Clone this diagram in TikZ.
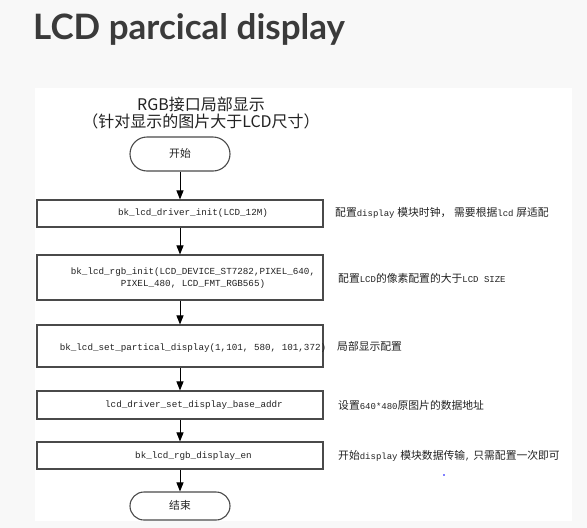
\documentclass[tikz,border=0pt]{standalone}
\usepackage{fontspec}
\setmainfont{Liberation Sans}
\setmonofont{Liberation Mono}
\newfontfamily\cjk{Noto Sans CJK SC}
\newfontfamily\titlefont{Lato}
\usetikzlibrary{arrows.meta}
\definecolor{bggray}{HTML}{F8F8F8}
\definecolor{titlegray}{HTML}{3A3A3A}
\definecolor{boxgray}{HTML}{4A4A4A}
\definecolor{txt}{HTML}{222222}
\newcommand\cd[1]{{\ttfamily\fontsize{9.25}{12.7}\selectfont #1}}
\newcommand\zh[1]{{\cjk\fontsize{10.8}{13}\selectfont #1}}
\newcommand\lt[1]{{\ttfamily\fontsize{9}{13}\selectfont #1}}
\tikzset{
  stepbox/.style={draw=boxgray, line width=1.1pt, minimum width=286pt, inner sep=0pt},
  term/.style={draw=boxgray, line width=1.1pt, minimum width=100pt, inner sep=0pt},
  codetext/.style={text=txt, inner sep=0pt, align=center},
  note/.style={text=txt, inner sep=0pt, anchor=west},
  arr/.style={draw=black, line width=1pt, -{Triangle[length=9pt,width=7pt]}},
}
\begin{document}
\begin{tikzpicture}[x=1pt,y=-1pt]
\useasboundingbox (0,0) rectangle (587,528);
\fill[bggray] (0,0) rectangle (587,528);
\fill[white] (35,88) rectangle (572,521);

\node[anchor=base west, inner sep=0pt, text=titlegray,
      font=\titlefont\bfseries\fontsize{35}{40}\selectfont] (title) at (33,39) {LCD parcical display};

\node[text=txt, inner sep=0pt, align=center, font=\cjk\fontsize{16}{17}\selectfont] (head) at (201,113)
  {RGB接口局部显示\\（针对显示的图片大于LCD尺寸）};

\node[term, minimum height=34pt, rounded corners=17pt] (start) at (180,154) {};
\node[text=txt, inner sep=0pt] (starttxt) at (180,153) {\zh{开始}};

\node[stepbox, minimum height=27pt] (b1) at (180,213.5) {};
\node[codetext] (t1) at (193,213.5) {\cd{bk\_lcd\_driver\_init(LCD\_12M)}};

\node[stepbox, minimum height=45pt] (b2) at (180,277.5) {};
\node[codetext] (t2) at (193,278) {\cd{bk\_lcd\_rgb\_init(LCD\_DEVICE\_ST7282,PIXEL\_640,}\\\cd{PIXEL\_480, LCD\_FMT\_RGB565)}};

\node[stepbox, minimum height=42pt] (b3) at (180,346) {};
\node[codetext] (t3) at (193,348) {\cd{bk\_lcd\_set\_partical\_display(1,101, 580, 101,372)}};

\node[stepbox, minimum height=28pt] (b4) at (180,405) {};
\node[codetext] (t4) at (194,405) {\cd{lcd\_driver\_set\_display\_base\_addr}};

\node[stepbox, minimum height=27pt] (b5) at (180,455.5) {};
\node[codetext] (t5) at (193.5,456) {\cd{bk\_lcd\_rgb\_display\_en}};

\node[term, minimum height=28pt, rounded corners=14pt] (end) at (180,506) {};
\node[text=txt, inner sep=0pt] (endtxt) at (180,505) {\zh{结束}};

\draw[arr] (start) -- (b1);
\draw[arr] (b1) -- (b2);
\draw[arr] (b2) -- (b3);
\draw[arr] (b3) -- (b4);
\draw[arr] (b4) -- (b5);
\draw[arr] (b5) -- (end);

\node[note] (n1) at (335,213) {\zh{配置}\lt{display} \zh{模块时钟，} \zh{需要根据}\lt{lcd} \zh{屏适配}};
\node[note] (n2) at (338,278) {\zh{配置}\lt{LCD}\zh{的像素配置的大于}\lt{LCD SIZE}};
\node[note] (n3) at (337,346) {\zh{局部显示配置}};
\node[note] (n4) at (338,405) {\zh{设置}\lt{640*480}\zh{原图片的数据地址}};
\node[note] (n5) at (338,456) {\zh{开始}\lt{display} \zh{模块数据传输}\lt{,} \zh{只需配置一次即可}};

\fill[blue] (444,475) circle (0.8pt);
\end{tikzpicture}
\end{document}
